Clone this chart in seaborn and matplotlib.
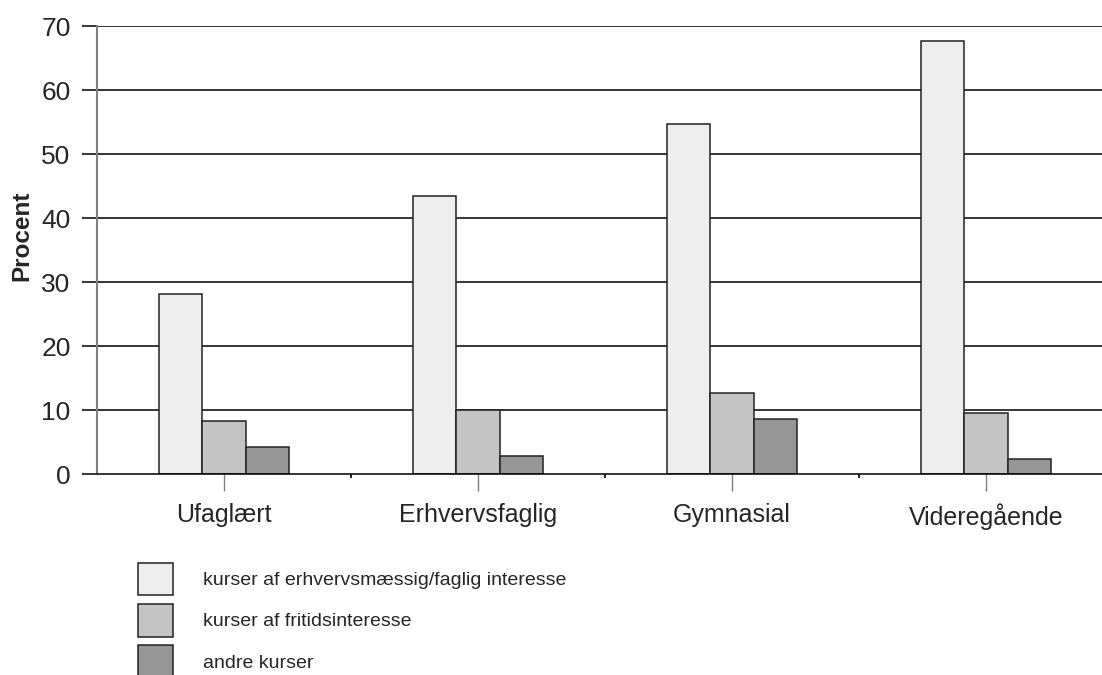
import matplotlib

matplotlib.use("Agg")
import matplotlib.pyplot as plt
import pandas as pd
import seaborn as sns

# Data
categories = ["Ufaglært", "Erhvervsfaglig", "Gymnasial", "Videregående"]
series_names = [
    "kurser af erhvervsmæssig/faglig interesse",
    "kurser af fritidsinteresse",
    "andre kurser",
]
erhverv = [28.2, 43.4, 54.7, 67.7]
fritid = [8.3, 10.0, 12.7, 9.5]
andre = [4.2, 2.8, 8.6, 2.3]
colors = ["#EEEEEE", "#C4C4C4", "#969696"]
yticks = [0, 10, 20, 30, 40, 50, 60, 70]


def build_frame():
    """Long format table for seaborn."""
    rows = []
    for name, vals in zip(series_names, [erhverv, fritid, andre]):
        for cat, v in zip(categories, vals):
            rows.append({"Uddannelse": cat, "Kursus": name, "Procent": v})
    return pd.DataFrame(rows)


def main():
    df = build_frame()
    sns.set_style("white")
    plt.rcParams["font.family"] = ["Liberation Sans", "DejaVu Sans"]

    fig = plt.figure(figsize=(11.02, 6.75), dpi=100)
    # axes runs past the right edge like in the reference
    ax = fig.add_axes([97 / 1102, 1 - 474 / 675, 1016 / 1102, 448 / 675])

    sns.barplot(
        data=df,
        x="Uddannelse",
        y="Procent",
        hue="Kursus",
        hue_order=series_names,
        order=categories,
        palette=colors,
        width=0.51,
        gap=0,
        edgecolor="#222222",
        linewidth=1.1,
        saturation=1,
        legend=True,
        ax=ax,
        zorder=3,
    )

    ax.set_xlim(-0.5, 3.5)
    ax.set_ylim(0, 70)
    ax.set_yticks(yticks)
    for y in yticks[1:]:
        ax.axhline(y, color="black", lw=1.1, zorder=1)

    for side in ["top", "right"]:
        ax.spines[side].set_visible(False)
    ax.spines["left"].set_color("#808080")
    ax.spines["left"].set_linewidth(1.5)
    ax.spines["bottom"].set_color("black")
    ax.spines["bottom"].set_linewidth(1.1)
    ax.spines["bottom"].set_zorder(4)

    ax.tick_params(axis="y", direction="out", length=11, width=1.1,
                   color="black", labelsize=19, pad=8, left=True)
    ax.tick_params(axis="x", which="major", direction="out", length=12,
                   width=1.0, color="#808080", labelsize=18, pad=9, bottom=True)
    ax.set_xticks([0.5, 1.5, 2.5], minor=True)
    ax.tick_params(axis="x", which="minor", direction="out", length=3,
                   width=1.2, color="black", bottom=True)

    ax.set_xlabel("")
    ax.set_ylabel("Procent", fontsize=17.5, fontweight="bold")
    ax.yaxis.set_label_coords(-64 / 1016, (474 - 236) / 448)

    handles, labels = ax.get_legend_handles_labels()
    ax.get_legend().remove()
    fig.legend(
        handles,
        labels,
        loc="upper left",
        bbox_to_anchor=(128 / 1102, 1 - 553 / 675),
        frameon=False,
        borderpad=0,
        prop={"family": ["Liberation Sans"], "size": 14},
        handlelength=1.8,
        handleheight=2.2,
        handletextpad=1.55,
        labelspacing=0.45,
    )

    fig.savefig("out.png", dpi=100)
    plt.close(fig)


if __name__ == "__main__":
    main()
